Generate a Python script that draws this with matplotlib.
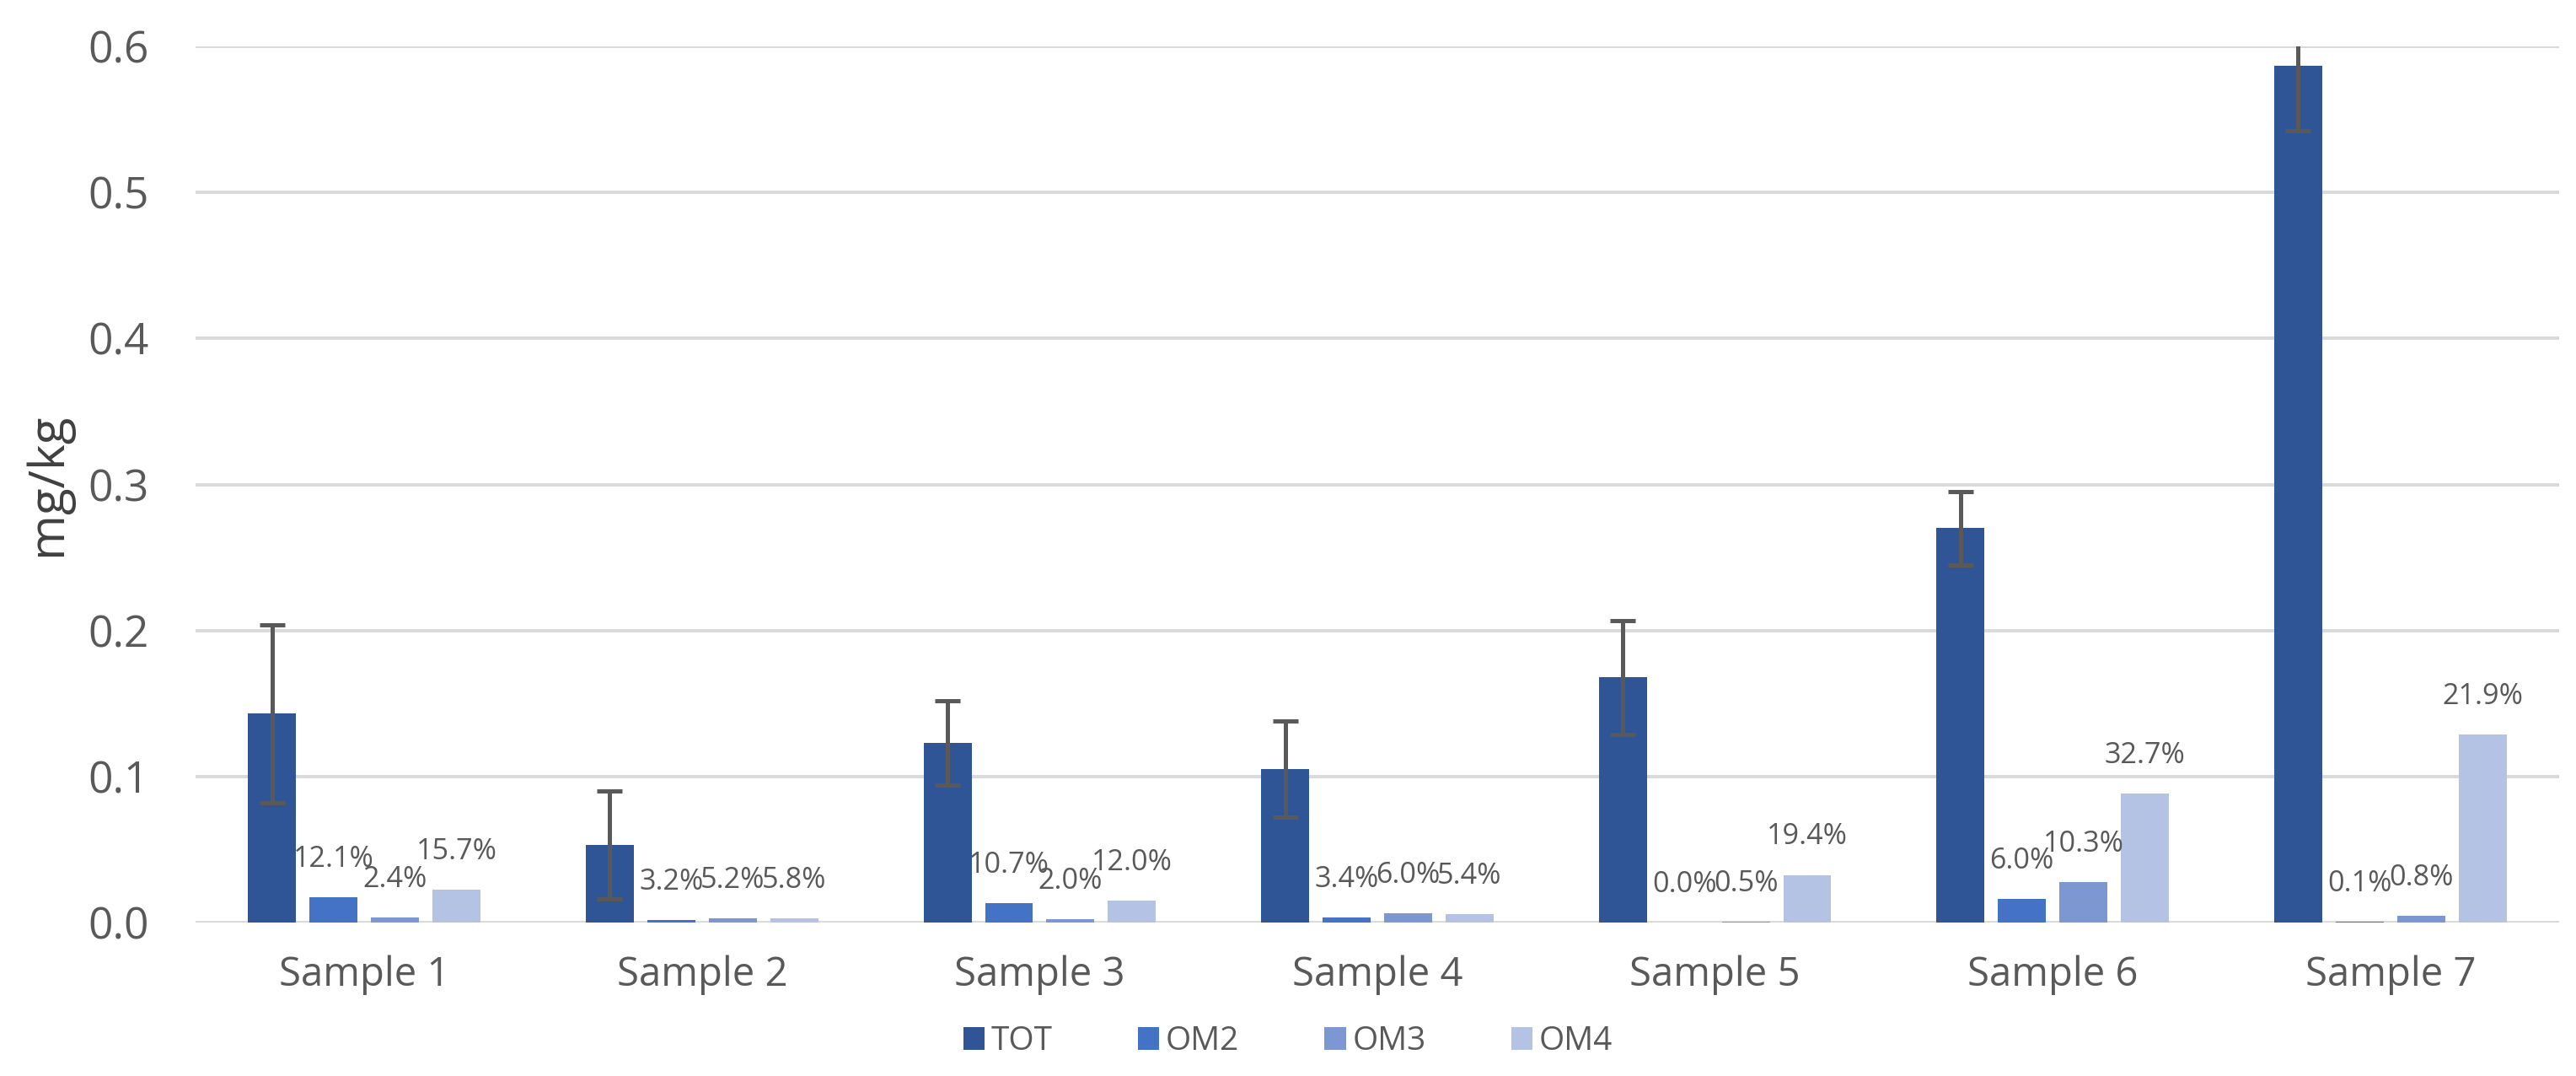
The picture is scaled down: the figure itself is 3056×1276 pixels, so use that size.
import matplotlib
matplotlib.use("Agg")
import matplotlib.pyplot as plt
import numpy as np
from matplotlib.patches import Patch

plt.rcParams['font.family'] = ['Open Sans', 'DejaVu Sans']

categories = ['Sample 1', 'Sample 2', 'Sample 3', 'Sample 4', 'Sample 5', 'Sample 6', 'Sample 7']
series_names = ['TOT', 'OM2', 'OM3', 'OM4']

tot = [0.143, 0.053, 0.123, 0.105, 0.168, 0.270, 0.587]
tot_err = [0.061, 0.037, 0.029, 0.033, 0.039, 0.025, 0.045]
om2 = [0.0173, 0.0017, 0.0132, 0.0036, 0.0, 0.0162, 0.0006]
om3 = [0.0034, 0.0028, 0.0025, 0.0063, 0.0008, 0.0278, 0.0047]
om4 = [0.0224, 0.0031, 0.0148, 0.0057, 0.0326, 0.0882, 0.1286]

om2_labels = ['12.1%', '3.2%', '10.7%', '3.4%', '0.0%', '6.0%', '0.1%']
om3_labels = ['2.4%', '5.2%', '2.0%', '6.0%', '0.5%', '10.3%', '0.8%']
om4_labels = ['15.7%', '5.8%', '12.0%', '5.4%', '19.4%', '32.7%', '21.9%']

y_ticks = [0.0, 0.1, 0.2, 0.3, 0.4, 0.5, 0.6]
y_label = 'mg/kg'

colors = ['#2F5597', '#4472C4', '#7C97D2', '#B4C2E3']
text_gray = '#595959'

fig = plt.figure(figsize=(15.28, 6.38), dpi=200)
ax = fig.add_axes([0.0759, 0.1426, 0.9176, 0.8143])

x = np.arange(len(categories))
bw = 0.142
step = 0.182
offsets = [-1.5 * step, -0.5 * step, 0.5 * step, 1.5 * step]
data = [tot, om2, om3, om4]
labels = [None, om2_labels, om3_labels, om4_labels]

for i, (vals, col) in enumerate(zip(data, colors)):
    bars = ax.bar(x + offsets[i], vals, width=bw, color=col, zorder=3, label=series_names[i])
    if i == 0:
        ax.errorbar(x + offsets[i], vals, yerr=tot_err, fmt='none', ecolor='#595959',
                    elinewidth=1.8, capsize=5.4, capthick=1.8, zorder=4)
    else:
        for b, lab in zip(bars, labels[i]):
            ax.annotate(lab, (b.get_x() + b.get_width() / 2, b.get_height()),
                        xytext=(0, 13), textcoords='offset points',
                        ha='center', va='baseline', fontsize=12.3, color=text_gray, zorder=5)

ax.set_xlim(-0.5, len(categories) - 0.5)
ax.set_ylim(0, 0.6)
ax.set_yticks(y_ticks)
ax.set_yticklabels([f'{t:.1f}' for t in y_ticks])
ax.set_xticks(x)
ax.set_xticklabels(categories)
ax.tick_params(axis='y', length=0, pad=20, labelsize=18.5, labelcolor=text_gray)
ax.tick_params(axis='x', length=0, pad=14, labelsize=17, labelcolor=text_gray)
ax.grid(axis='y', color='#D9D9D9', linewidth=1.4, zorder=0)
ax.set_axisbelow(True)
for s in ax.spines.values():
    s.set_visible(False)

ax.set_ylabel(y_label, fontsize=21, color='#404040', labelpad=2)
ax.yaxis.set_label_coords(-0.052, 0.5)

handles = [Patch(facecolor=c, edgecolor='none') for c in colors]
fig.legend(handles, series_names, loc='center', bbox_to_anchor=(0.5, 0.032), ncol=4,
           frameon=False, fontsize=14, labelcolor=text_gray, handlelength=0.65,
           handleheight=0.7, handletextpad=0.2, columnspacing=2.6)

fig.savefig('out.png', dpi=200, facecolor='white')
